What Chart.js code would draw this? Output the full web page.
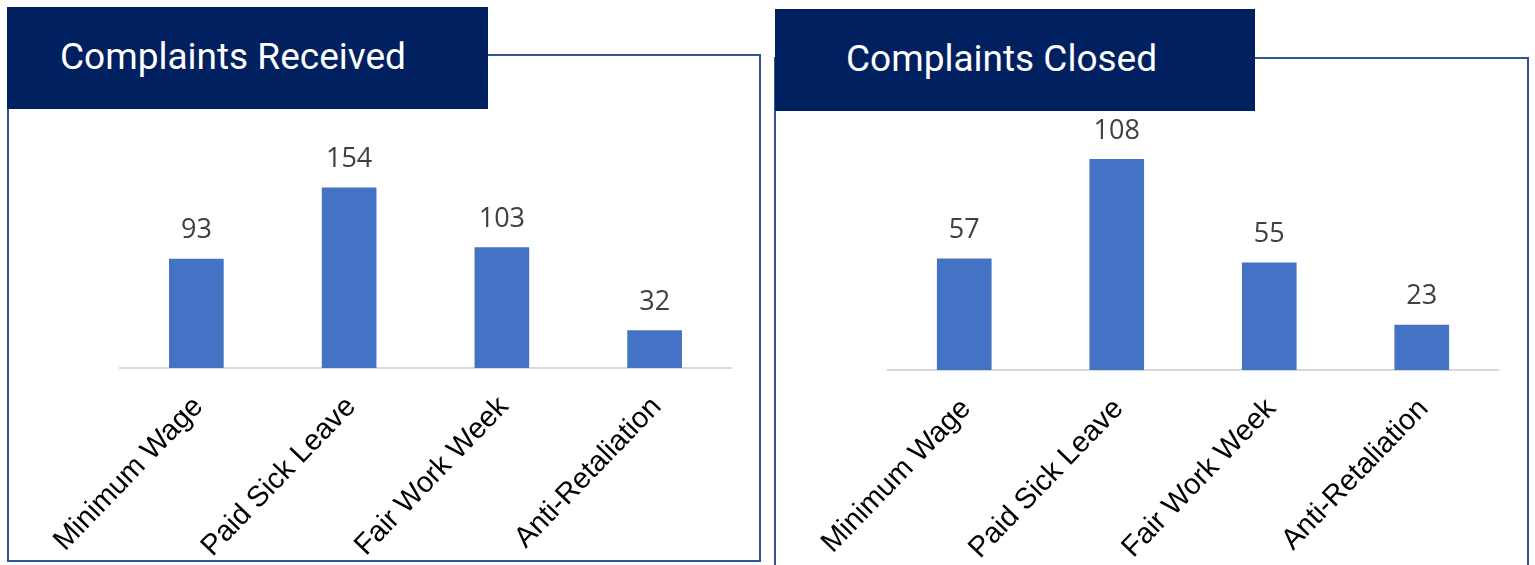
<!DOCTYPE html>
<html>
<head>
<meta charset="utf-8">
<script src="https://cdn.jsdelivr.net/npm/chart.js@4/dist/chart.umd.min.js"></script>
<style>
  body { margin: 0; width: 1535px; height: 565px; background: #fff; position: relative; overflow: hidden; }
  .panel { position: absolute; border: 2px solid #2f5597; box-sizing: border-box; }
  .title {
    position: absolute; background: #002060; color: #fff;
    font-family: Roboto, sans-serif; font-size: 37px;
    display: flex; align-items: center; box-sizing: border-box;
  }
  canvas { position: absolute; }
</style>
</head>
<body>
<div class="panel" style="left:7px; top:54px; width:754px; height:508px;"></div>
<div class="panel" style="left:774px; top:57px; width:755px; height:530px;"></div>
<div class="title" style="left:7px; top:7px; width:481px; height:102px; padding-left:53px; padding-bottom:4px;">Complaints Received</div>
<div class="title" style="left:775px; top:9px; width:480px; height:102px; padding-left:71px; padding-bottom:4px;">Complaints Closed</div>
<canvas id="received" width="730" height="453" style="left:20px; top:112px;"></canvas>
<canvas id="closed" width="734" height="453" style="left:786px; top:112px;"></canvas>
<script>
const categories = ['Minimum Wage', 'Paid Sick Leave', 'Fair Work Week', 'Anti-Retaliation'];
const receivedValues = [93, 154, 103, 32];
const closedValues = [57, 108, 55, 23];

// draw the value above each bar
const valueLabels = {
    id: 'valueLabels',
    afterDatasetsDraw(chart) {
        let ctx = chart.ctx;
        let meta = chart.getDatasetMeta(0);
        ctx.save();
        ctx.font = '27px "Open Sans", sans-serif';
        ctx.fillStyle = '#404040';
        ctx.textAlign = 'center';
        ctx.textBaseline = 'bottom';
        meta.data.forEach((bar, i) => {
            ctx.fillText(chart.data.datasets[0].data[i], bar.x, bar.y - 15);
        });
        ctx.restore();
    }
};

function drawChart(id, values, yMax, padding, axisHeight) {
    let ctx = document.getElementById(id).getContext('2d');
    new Chart(ctx, {
        type: 'bar',
        data: {
            labels: categories,
            datasets: [{
                data: values,
                backgroundColor: '#4472c4',
                barThickness: 54
            }]
        },
        options: {
            responsive: false,
            animation: false,
            layout: { padding: padding },
            plugins: { legend: { display: false }, tooltip: { enabled: false } },
            scales: {
                x: {
                    grid: { display: false },
                    border: { color: '#d9d9d9', width: 2 },
                    ticks: {
                        color: '#000',
                        font: { family: '"Liberation Sans", Arial, sans-serif', size: 29 },
                        minRotation: 46,
                        maxRotation: 46,
                        labelOffset: 2,
                        padding: 14,
                        autoSkip: false
                    },
                    afterFit(scale) { scale.height = axisHeight; }
                },
                y: { display: false, min: 0, max: yMax }
            }
        },
        plugins: [valueLabels]
    });
}

drawChart('received', receivedValues, 200, { left: 100, right: 19, top: 22, bottom: 0 }, 197);
drawChart('closed', closedValues, 120, { left: 102, right: 22, top: 24, bottom: 0 }, 195);
</script>
</body>
</html>
